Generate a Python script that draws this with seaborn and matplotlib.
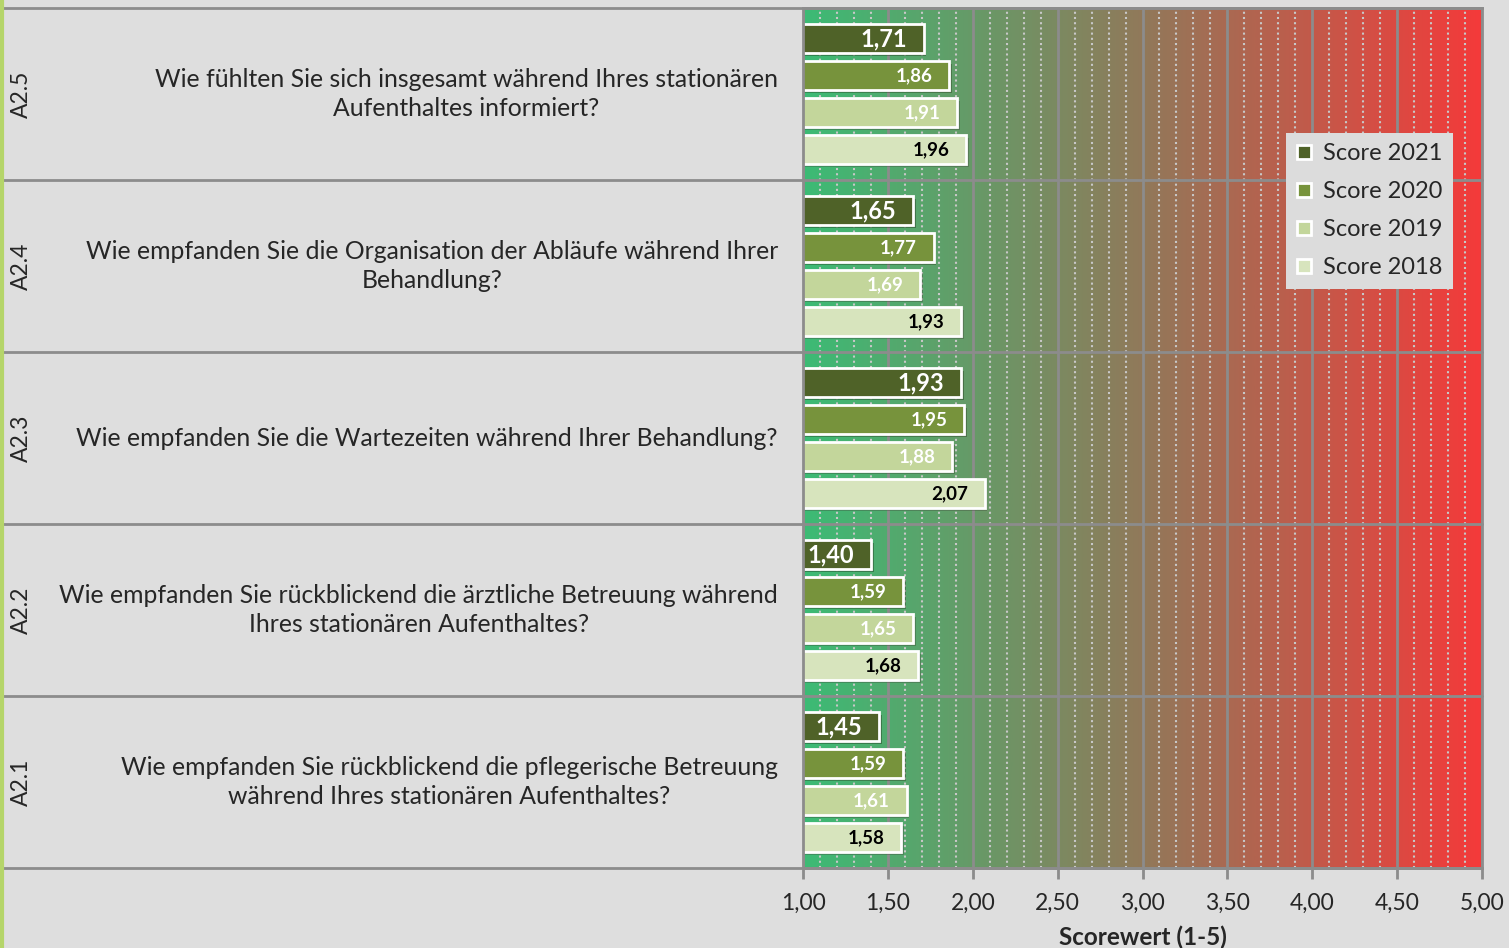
import numpy as np
import pandas as pd
import matplotlib
matplotlib.use("Agg")
import matplotlib.pyplot as plt
import matplotlib.patheffects as pe
from matplotlib.colors import LinearSegmentedColormap
from matplotlib.lines import Line2D
from matplotlib.ticker import MultipleLocator, FuncFormatter
import seaborn as sns


# data (top to bottom as in the chart)
codes = ["A2.5", "A2.4", "A2.3", "A2.2", "A2.1"]
questions = [
    "Wie fühlten Sie sich insgesamt während Ihres stationären\nAufenthaltes informiert?",
    "Wie empfanden Sie die Organisation der Abläufe während Ihrer\nBehandlung?",
    "Wie empfanden Sie die Wartezeiten während Ihrer Behandlung?",
    "Wie empfanden Sie rückblickend die ärztliche Betreuung während\nIhres stationären Aufenthaltes?",
    "Wie empfanden Sie rückblickend die pflegerische Betreuung\nwährend Ihres stationären Aufenthaltes?",
]
series = ["Score 2021", "Score 2020", "Score 2019", "Score 2018"]
score_2021 = [1.71, 1.65, 1.93, 1.40, 1.45]
score_2020 = [1.86, 1.77, 1.95, 1.59, 1.59]
score_2019 = [1.91, 1.69, 1.88, 1.65, 1.61]
score_2018 = [1.96, 1.93, 2.07, 1.68, 1.58]
xticks = [1.0, 1.5, 2.0, 2.5, 3.0, 3.5, 4.0, 4.5, 5.0]

colors = ["#4f6228", "#77933c", "#c3d69b", "#d7e4bd"]
label_colors = ["white", "white", "white", "black"]
label_sizes = [17, 13.5, 13.5, 13.5]

df = pd.concat([
    pd.DataFrame({"code": codes, "score": vals, "series": name})
    for name, vals in zip(series, [score_2021, score_2020, score_2019, score_2018])
])

sns.set_theme(style="white")
plt.rcParams["font.family"] = ["Lato", "DejaVu Sans"]

bg = "#dedede"
fig = plt.figure(figsize=(15.09, 9.48), dpi=100, facecolor=bg)
ax = fig.add_axes([803 / 1509, 1 - 868 / 948, 679 / 1509, 860 / 948])
ax.set_facecolor(bg)

sns.barplot(data=df, y="code", x="score", hue="series", order=codes,
            hue_order=series, palette=colors, orient="h", width=0.86,
            gap=0.22, edgecolor="white", linewidth=2, saturation=1, ax=ax)

# gradient background green -> red
cmap = LinearSegmentedColormap.from_list(
    "score", [(0.0, "#3cbb75"), (0.5, "#91795a"), (1.0, "#f43a3a")])
grad = np.linspace(0, 1, 400).reshape(1, -1)
ax.imshow(grad, cmap=cmap, extent=(1, 5, 4.5, -0.5), aspect="auto", zorder=0)
ax.set_xlim(1, 5)
ax.set_ylim(4.5, -0.5)

# grid
ax.set_axisbelow(True)
ax.xaxis.set_major_locator(plt.FixedLocator(xticks))
ax.xaxis.set_minor_locator(MultipleLocator(0.1))
ax.grid(which="major", axis="x", color="#8c8c8c", linewidth=2, zorder=0.5)
ax.grid(which="minor", axis="x", color="#c8c8c8", linestyle=(0, (1, 1.5)),
        linewidth=1.5, zorder=0.5)
ax.grid(axis="y", visible=False)
ax.xaxis.set_major_formatter(FuncFormatter(lambda v, p: f"{v:.2f}".replace(".", ",")))
ax.tick_params(axis="x", which="major", direction="out", length=8, width=2,
               color="#8c8c8c", labelsize=16.5, pad=10, bottom=True)
ax.tick_params(axis="x", which="minor", length=0)
ax.tick_params(axis="y", left=False, labelleft=False)
ax.set_ylabel("")
ax.set_xlabel("Scorewert (1-5)", fontsize=17.5, fontweight="bold", labelpad=8)

for s in ["left", "right", "top", "bottom"]:
    ax.spines[s].set_color("#8c8c8c")
    ax.spines[s].set_linewidth(2)

# bar shadows and value labels
for cont, lc, ls in zip(ax.containers, label_colors, label_sizes):
    for bar in cont:
        bar.set_path_effects([pe.SimplePatchShadow(offset=(2, -2), alpha=0.35),
                              pe.Normal()])
        w = bar.get_width()
        yc = bar.get_y() + bar.get_height() / 2
        ax.annotate(f"{w:.2f}".replace(".", ","), (w, yc), xytext=(-12, 0),
                    textcoords="offset points", ha="right", va="center",
                    color=lc, fontsize=ls, fontweight="bold")

# category separators across whole chart width
ext = -803 / 679
for yb in np.arange(-0.5, len(codes), 1.0):
    ax.axhline(yb, xmin=ext, xmax=1, color="#8c8c8c", linewidth=2, clip_on=False)

# category texts on the left
tr = ax.get_yaxis_transform()
for i, (c, q) in enumerate(zip(codes, questions)):
    ax.text(-25 / 679, i, q, transform=tr, ha="right", va="center",
            multialignment="center", fontsize=17.8, linespacing=1.3)
    ax.text(-782 / 679, i, c, transform=tr, ha="center", va="center",
            rotation=90, fontsize=16.5)

# legend
h, l = ax.get_legend_handles_labels()
leg = ax.legend(h, l, loc="upper right", bbox_to_anchor=(0.957, 0.855),
                borderaxespad=0, frameon=True, facecolor="#dcdcdc",
                edgecolor="none", framealpha=1, fontsize=17, handlelength=0.6,
                handleheight=0.6, handletextpad=0.5, labelspacing=0.72,
                borderpad=0.45, fancybox=False)

fig.add_artist(Line2D([0.001, 0.001], [0, 1], transform=fig.transFigure,
                      color="#b5d56a", linewidth=3))

fig.savefig("out.png", dpi=100, facecolor=bg)
